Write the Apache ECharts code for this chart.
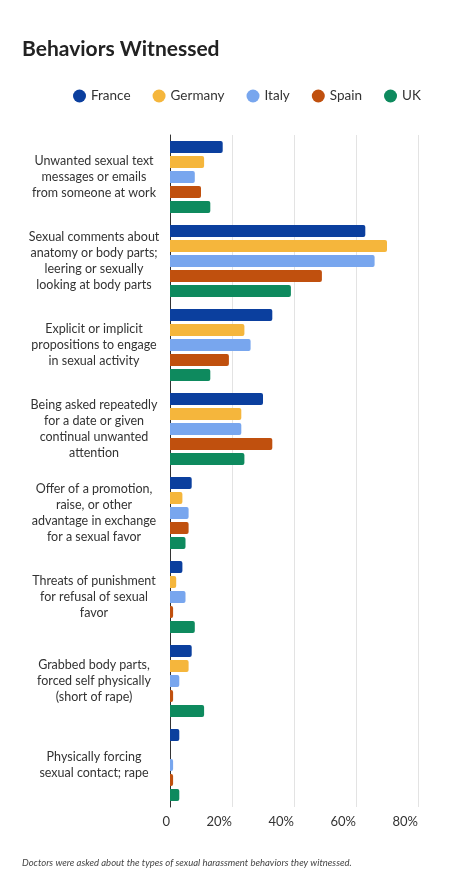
<!DOCTYPE html>
<html>
<head>
<meta charset="utf-8">
<script src="https://cdn.jsdelivr.net/npm/echarts@6/dist/echarts.min.js"></script>
<style>
  html, body { margin: 0; padding: 0; background: #fff; }
  #chart { width: 474px; height: 879px; }
</style>
</head>
<body>
<div id="chart"></div>
<script>
// 数据
const categories = [
    'Unwanted sexual text\nmessages or emails\nfrom someone at work',
    'Sexual comments about\nanatomy or body parts;\nleering or sexually\nlooking at body parts',
    'Explicit or implicit\npropositions to engage\nin sexual activity',
    'Being asked repeatedly\nfor a date or given\ncontinual unwanted\nattention',
    'Offer of a promotion,\nraise, or other\nadvantage in exchange\nfor a sexual favor',
    'Threats of punishment\nfor refusal of sexual\nfavor',
    'Grabbed body parts,\nforced self physically\n(short of rape)',
    'Physically forcing\nsexual contact; rape'
];
const france = [17, 63, 33, 30, 7, 4, 7, 3];
const germany = [11, 70, 24, 23, 4, 2, 6, 0];
const italy = [8, 66, 26, 23, 6, 5, 3, 1];
const spain = [10, 49, 19, 33, 6, 1, 1, 1];
const uk = [13, 39, 13, 24, 5, 8, 11, 3];

const seriesNames = ['France', 'Germany', 'Italy', 'Spain', 'UK'];
const seriesData = [france, germany, italy, spain, uk];
const colors = ['#0b3f9e', '#f5b63c', '#78a6ee', '#c0500e', '#0e8a5e'];

const chart = echarts.init(document.getElementById('chart'));

const font = 'Lato, "Open Sans", sans-serif';

chart.setOption({
    backgroundColor: '#fff',
    textStyle: { fontFamily: font },
    title: [
        {
            text: 'Behaviors Witnessed',
            left: 17,
            top: 34,
            textStyle: { fontSize: 21, fontWeight: 'bold', color: '#222', fontFamily: font }
        },
        {
            text: 'Doctors were asked about the types of sexual harassment behaviors they witnessed.',
            left: 17,
            top: 853,
            textStyle: { fontSize: 9.5, fontStyle: 'italic', fontWeight: 'normal', color: '#444', fontFamily: font }
        }
    ],
    legend: {
        top: 84,
        left: 68,
        icon: 'circle',
        itemWidth: 13,
        itemHeight: 13,
        itemGap: 22,
        textStyle: { fontSize: 13.5, color: '#333', fontFamily: font },
        data: seriesNames
    },
    grid: { left: 170, right: 56, top: 135, bottom: 72 },
    xAxis: {
        type: 'value',
        min: 0,
        max: 80,
        interval: 20,
        axisLine: { show: false },
        axisTick: { show: false },
        splitLine: { lineStyle: { color: '#e3e3e3' } },
        axisLabel: {
            align: 'right',
            margin: 8,
            fontSize: 13,
            color: '#333',
            formatter: v => v === 0 ? '0' : v + '%'
        }
    },
    yAxis: {
        type: 'category',
        inverse: true,
        data: categories,
        axisLine: { lineStyle: { color: '#333', width: 1 } },
        axisTick: { length: 153, lineStyle: { color: '#999' } },
        axisLabel: {
            align: 'center',
            margin: 76,
            fontSize: 12.5,
            lineHeight: 16,
            color: '#333'
        }
    },
    series: seriesNames.map((name, i) => ({
        name: name,
        type: 'bar',
        data: seriesData[i],
        barWidth: 12,
        barGap: '25%',
        barCategoryGap: '14%',
        itemStyle: { color: colors[i], borderRadius: [0, 2, 2, 0] }
    }))
});
</script>
</body>
</html>
